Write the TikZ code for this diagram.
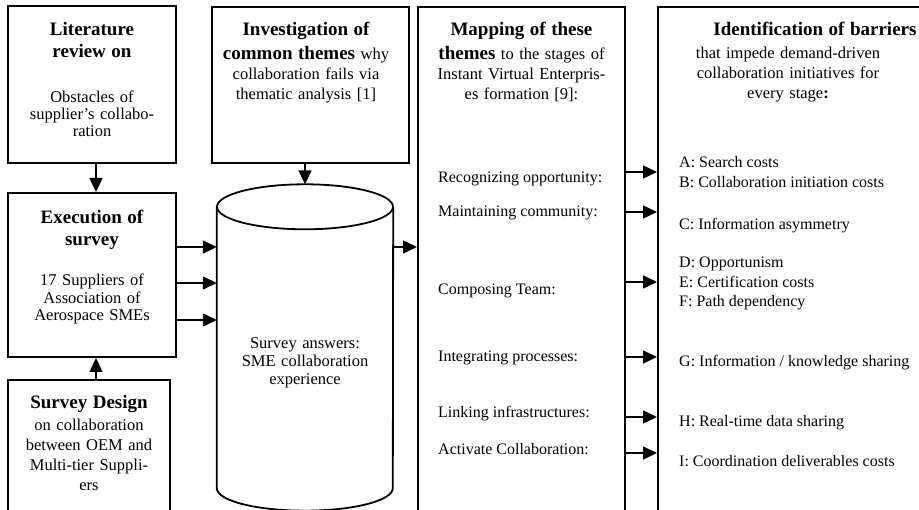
\documentclass[tikz,border=0pt]{standalone}
\usepackage{fontspec}
\setmainfont{Liberation Serif}
\usetikzlibrary{arrows.meta}
\lineskiplimit=-100pt
\newcommand{\hdfont}{\fontsize{19}{19}\selectfont\bfseries}
\newcommand{\bdfont}{\fontsize{16.5}{17}\selectfont}
\newcommand{\lifont}{\fontsize{16}{16}\selectfont}
\tikzset{
  >={Triangle[length=14pt,width=13pt]},
  boxline/.style={draw=black,line width=2pt},
  box/.style={boxline,rectangle,inner sep=0pt},
  arrowline/.style={draw=black,line width=1.5pt,->},
  boxtext/.style={align=center,inner sep=0pt,anchor=north,font=\bdfont},
  listitem/.style={anchor=base west,inner sep=0pt,font=\lifont}
}

\begin{document}
\begin{tikzpicture}[x=1pt,y=-1pt]
  \useasboundingbox (0,0) rectangle (919,510);
  \clip (0,0) rectangle (919,510);
  % boxes
  \node[box,minimum width=168,minimum height=157] (LIT)    at (92,84.5)    {};
  \node[box,minimum width=168,minimum height=164] (EXEC)   at (92,275)     {};
  \node[box,minimum width=162,minimum height=160] (DESIGN) at (89,460)     {};
  \node[box,minimum width=197,minimum height=156] (THEMES) at (310.5,85)   {};
  \node[box,minimum width=207,minimum height=533] (MAP)    at (521.5,273.5) {};
  \node[box,minimum width=282,minimum height=533] (BAR)    at (799,273.5)  {};
  % database
  \node[minimum width=176,minimum height=281,inner sep=0pt] (DB) at (305,347.5) {};
  \coordinate (DBTOP) at ([yshift=22.5pt]DB.north);
  \draw (DB.north west) -- (DB.south west)
    arc [start angle=180,end angle=360,x radius=88pt,y radius=22.5pt]
    -- (DB.north east) [line width=1.8pt];
  \draw (DB.north) ellipse [x radius=88pt,y radius=22.5pt] [line width=1.8pt];
  % box texts
  \node[boxtext,text width=160pt] (LITTXT) at (92,22)
    {{\hdfont Literature\\[5pt] review on}\\[28pt] Obstacles of\\ supplier's collabo-\\ ration};
  \node[boxtext,text width=160pt] (EXECTXT) at (92,210)
    {{\hdfont Execution of\\[5pt] survey}\\[23pt] 17 Suppliers of\\[1pt] Association of\\ Aerospace SMEs};
  \node[boxtext,text width=155pt] (DESIGNTXT) at (89,395)
    {{\hdfont Survey Design}\\[5pt] on collaboration\\[3pt] between OEM and\\[3pt] Multi-tier Suppli-\\[3pt] ers};
  \node[boxtext,text width=190pt] (THEMESTXT) at (306,22)
    {{\hdfont Investigation of\\[6pt] common themes} why\\[3pt] collaboration fails via\\[3pt] thematic analysis [1]};
  \node[boxtext,text width=200pt] (MAPTXT) at (521.5,22)
    {{\hdfont Mapping of these\\[6pt] themes} to the stages of\\[3pt] Instant Virtual Enterpris-\\[3pt] es formation [9]:};
  \node[boxtext,text width=270pt] (BARTXT) at (788,22)
    {\hspace*{54pt}{\hdfont Identification of barriers}\\[6pt] that impede demand-driven\\[3pt] collaboration initiatives for\\[3pt] every stage{\bfseries:}};
  \node[boxtext,text width=170pt] (DBTXT) at (305,337.5)
    {Survey answers:\\[1pt] SME collaboration\\[1pt] experience};
  % stages
  \node[listitem] (REC)  at (438,183) {Recognizing opportunity:};
  \node[listitem] (MAIN) at (438,217) {Maintaining community:};
  \node[listitem] (COMP) at (438,295) {Composing Team:};
  \node[listitem] (INTG) at (438,362) {Integrating processes:};
  \node[listitem] (LINK) at (438,418) {Linking infrastructures:};
  \node[listitem] (ACT)  at (438,455) {Activate Collaboration:};
  % barriers
  \node[listitem] (BA) at (679,168) {A: Search costs};
  \node[listitem] (BB) at (679,188) {B: Collaboration initiation costs};
  \node[listitem] (BC) at (679,230) {C: Information asymmetry};
  \node[listitem] (BD) at (679,268) {D: Opportunism};
  \node[listitem] (BE) at (679,288) {E: Certification costs};
  \node[listitem] (BF) at (679,307) {F: Path dependency};
  \node[listitem] (BG) at (679,367) {G: Information / knowledge sharing};
  \node[listitem] (BH) at (679,427) {H: Real-time data sharing};
  \node[listitem] (BI) at (679,467) {I: Coordination deliverables costs};
  % arrows
  \draw (LIT.south -| 96,0) -- (EXEC.north -| 96,0) [arrowline];
  \draw (DESIGN.north -| 96,0) -- (EXEC.south -| 96,0) [arrowline];
  \draw (THEMES.south -| DBTOP) -- (DBTOP) [arrowline];
  \draw (EXEC.east |- 0,247) -- (DB.west |- 0,247) [arrowline];
  \draw (EXEC.east |- 0,283) -- (DB.west |- 0,283) [arrowline];
  \draw (EXEC.east |- 0,320) -- (DB.west |- 0,320) [arrowline];
  \draw (DB.east |- 0,247) -- (MAP.west |- 0,247) [arrowline];
  \draw (MAP.east |- 0,172) -- (BAR.west |- 0,172) [arrowline];
  \draw (MAP.east |- 0,212) -- (BAR.west |- 0,212) [arrowline];
  \draw (MAP.east |- 0,282) -- (BAR.west |- 0,282) [arrowline];
  \draw (MAP.east |- 0,357) -- (BAR.west |- 0,357) [arrowline];
  \draw (MAP.east |- 0,417) -- (BAR.west |- 0,417) [arrowline];
  \draw (MAP.east |- 0,453) -- (BAR.west |- 0,453) [arrowline];
\end{tikzpicture}
\end{document}
